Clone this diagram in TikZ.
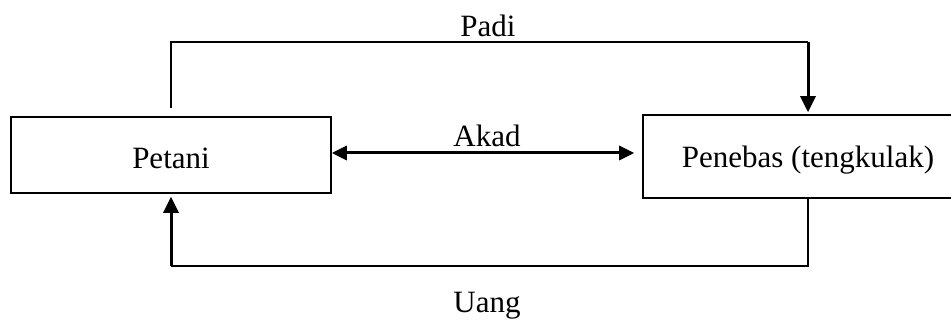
\documentclass[tikz,border=0pt]{standalone}
\usepackage{fontspec}
\setmainfont{Liberation Serif}
\usetikzlibrary{arrows.meta}
\begin{document}
\begin{tikzpicture}[x=1pt,y=-1pt,
  txt/.style={font=\fontsize{31}{37}\selectfont},
  box/.style={txt, draw, line width=1.6pt, inner sep=0pt, text depth=0pt},
  flow/.style={line width=2pt},
  tip/.style={Triangle[length=15pt,width=15pt]},
  flowarrow/.style={line width=3pt, -{Triangle[length=16pt,width=15pt]}},
  lbl/.style={txt, inner sep=0pt, anchor=base}]
\useasboundingbox (0,0) rectangle (951,320);
\clip (0,0) rectangle (951,320);

% the two parties
\node[box, minimum width=320pt, minimum height=76pt, text height=28pt]
  (petani) at (171,155) {Petani};
\node[box, minimum width=330pt, minimum height=83pt, text height=22pt]
  (penebas) at (808,156.5) {Penebas (tengkulak)};

% levels of the horizontal runs
\coordinate (topline) at (0,42);
\coordinate (akadline) at (0,153);
\coordinate (bottomline) at (0,266);

% rice goes from farmer to buyer
\draw[flow] ([yshift=8pt]petani.north) |- (penebas.north |- topline);
\draw[flowarrow] (penebas.north |- topline) -- ([yshift=2pt]penebas.north);

% agreement between both
\draw[line width=3pt, {Triangle[length=15pt,width=14pt]}-{Triangle[length=15pt,width=14pt]}]
  (petani.east |- akadline) -- ([xshift=-8pt]penebas.west |- akadline);

% money goes back to the farmer
\draw[line width=2.5pt] (penebas.south) |- (petani.south |- bottomline);
\draw[flowarrow] (petani.south |- bottomline) -- ([yshift=-3pt]petani.south);

% labels
\node[lbl] (padi) at (488,37) {Padi};
\node[lbl] (akad) at (487,147) {Akad};
\node[lbl] (uang) at (487,313) {Uang};
\end{tikzpicture}
\end{document}
